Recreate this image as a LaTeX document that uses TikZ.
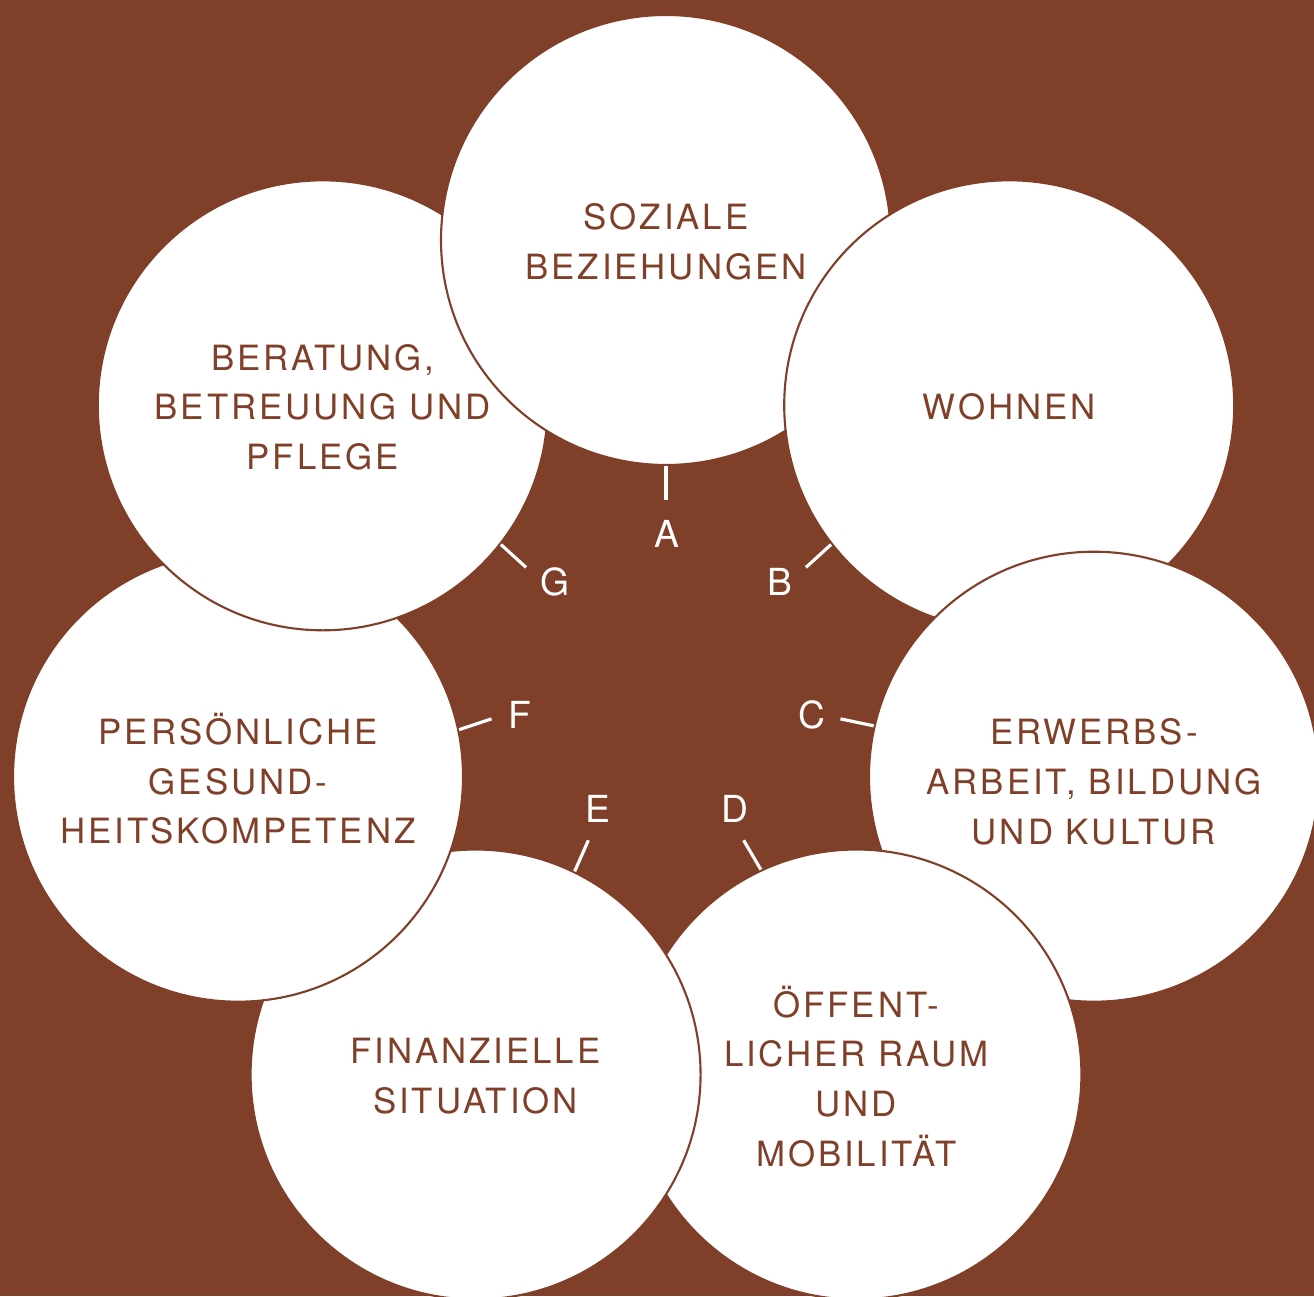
\documentclass[tikz,border=0pt]{standalone}
\usepackage{fontspec}
\newfontfamily\topicfont[LetterSpace=8.5]{TeX Gyre Heros}
\newfontfamily\letterfont{TeX Gyre Heros}
\definecolor{rust}{HTML}{7F3F28}
\tikzset{
	bubble/.style={circle, fill=white, draw=rust, line width=0.6pt, minimum size=4.5cm, inner sep=0pt},
	topic/.style={text=rust, align=center, inner sep=0pt, font=\topicfont\fontsize{9.9}{14.2}\selectfont},
	tick/.style={draw=white, line width=0.9pt},
	letter/.style={text=white, inner sep=0pt, font=\letterfont\fontsize{10.6}{12}\selectfont}
}
\begin{document}
\begin{tikzpicture}
	\useasboundingbox (-6.66,-6.17) rectangle (6.48,6.79);
	\clip (-6.66,-6.17) rectangle (6.48,6.79);
	\fill[rust] (-6.66,-6.17) rectangle (6.48,6.79);
	\node[bubble] (a) at (90:4.39) {};
	\node[bubble] (b) at (38.57:4.39) {};
	\node[bubble] (c) at (-12.86:4.39) {};
	\node[bubble] (d) at (-64.29:4.39) {};
	\node[bubble] (e) at (-115.71:4.39) {};
	\node[bubble] (f) at (192.86:4.39) {};
	\node[bubble] (g) at (141.43:4.39) {};
	% a again over g
	\begin{scope}
		\clip (-6.66,-6.17) rectangle (0,6.79);
		\node[bubble] (a2) at (90:4.39) {};
	\end{scope}
	\node[topic] (ta) at ([yshift=-0.02cm]a) {SOZIALE\\BEZIEHUNGEN};
	\node[topic] (tb) at ([yshift=-0.02cm]b) {WOHNEN};
	\node[topic] (tc) at ([yshift=-0.05cm]c) {ERWERBS-\\ARBEIT, BILDUNG\\UND KULTUR};
	\node[topic] (td) at ([yshift=-0.02cm]d) {ÖFFENT-\\LICHER RAUM\\UND\\MOBILITÄT};
	\node[topic] (te) at ([yshift=-0.02cm]e) {FINANZIELLE\\SITUATION};
	\node[topic] (tf) at ([yshift=-0.02cm]f) {PERSÖNLICHE\\GESUND-\\HEITSKOMPETENZ};
	\node[topic] (tg) at ([yshift=-0.02cm]g) {BERATUNG,\\BETREUUNG UND\\PFLEGE};
	\coordinate (ka) at (90:1.79);
	\coordinate (kb) at (38.57:1.79);
	\coordinate (kc) at (-12.86:1.79);
	\coordinate (kd) at (-64.29:1.79);
	\coordinate (ke) at (-115.71:1.79);
	\coordinate (kf) at (192.86:1.79);
	\coordinate (kg) at (141.43:1.79);
	\draw[tick] (a.-90) -- (ka);
	\draw[tick] (b.218.57) -- (kb);
	\draw[tick] (c.167.14) -- (kc);
	\draw[tick] (d.115.71) -- (kd);
	\draw[tick] (e.64.29) -- (ke);
	\draw[tick] (f.12.86) -- (kf);
	\draw[tick] (g.-38.57) -- (kg);
	\node[letter] (la) at (0.01,1.455) {A};
	\node[letter] (lb) at (1.14,0.973) {B};
	\node[letter] (lc) at (1.457,-0.36) {C};
	\node[letter] (ld) at (0.69,-1.30) {D};
	\node[letter] (le) at (-0.677,-1.30) {E};
	\node[letter] (lf) at (-1.46,-0.36) {F};
	\node[letter] (lg) at (-1.11,0.973) {G};
\end{tikzpicture}
\end{document}
